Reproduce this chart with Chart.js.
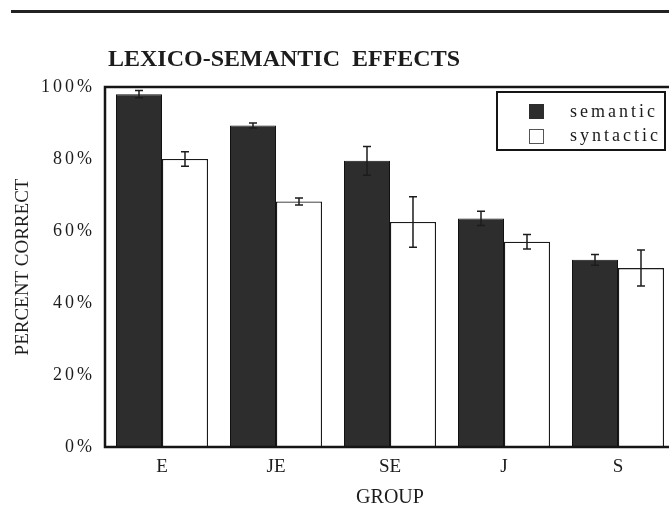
<!DOCTYPE html>
<html>
<head>
<meta charset="utf-8">
<title>Lexico-semantic effects</title>
<style>
  html, body { margin: 0; padding: 0; background: #fff; overflow: hidden; width: 669px; height: 527px; }
  #wrap { position: absolute; left: 0; top: 0; width: 680px; height: 527px; }
</style>
<script src="https://cdn.jsdelivr.net/npm/chart.js@4.4.1/dist/chart.umd.min.js"></script>
</head>
<body>
<div id="wrap"><canvas id="c" width="680" height="527"></canvas></div>
<script>
// data
const groups = ["E", "JE", "SE", "J", "S"];
const semantic = [98, 89.3, 79.5, 63.5, 52];
const semanticErr = [1, 0.7, 4, 2, 1.5];
const syntactic = [80, 68.2, 62.5, 57, 49.7];
const syntacticErr = [2, 1, 7, 2, 5];
const yTicks = [0, 20, 40, 60, 80, 100];

const SERIF = "'Liberation Serif', 'Times New Roman', serif";
const INK = "#1c1c1c";

// top rule + title, drawn before everything (spacing reset here)
const headerPlugin = {
  id: "header",
  beforeDraw(chart){
    const ctx = chart.ctx;
    ctx.letterSpacing = "0px";
    ctx.save();
    ctx.fillStyle = "#222";
    ctx.fillRect(11, 10, 670, 3);
    ctx.fillStyle = INK;
    ctx.font = "bold 24px " + SERIF;
    ctx.textBaseline = "middle";
    ctx.textAlign = "left";
    ctx.fillText("LEXICO-SEMANTIC  EFFECTS", 108, 60);
    ctx.restore();
  },
  afterDraw(chart){ chart.ctx.letterSpacing = "0px"; }
};

// error bars, plot frame and legend box
const extrasPlugin = {
  id: "extras",
  afterDatasetsDraw(chart){
    const ctx = chart.ctx;
    const y = chart.scales.y;
    const errs = [semanticErr, syntacticErr];
    ctx.save();
    ctx.strokeStyle = INK;
    ctx.lineWidth = 1.5;
    chart.data.datasets.forEach((ds, i)=>{
      const meta = chart.getDatasetMeta(i);
      meta.data.forEach((bar, j)=>{
        const v = ds.data[j], e = errs[i][j];
        const x = bar.x;
        const yt = y.getPixelForValue(v + e), yb = y.getPixelForValue(v - e);
        ctx.beginPath();
        ctx.moveTo(x, yt); ctx.lineTo(x, yb);
        ctx.moveTo(x - 4, yt); ctx.lineTo(x + 4, yt);
        ctx.moveTo(x - 4, yb); ctx.lineTo(x + 4, yb);
        ctx.stroke();
      });
    });
    // frame
    const a = chart.chartArea;
    ctx.lineWidth = 2.5;
    ctx.strokeStyle = "#151515";
    ctx.strokeRect(a.left, a.top, a.right - a.left, a.bottom - a.top);

    // legend
    ctx.lineWidth = 2;
    ctx.fillStyle = "#fff";
    ctx.fillRect(497, 92, 168, 58);
    ctx.strokeRect(497, 92, 168, 58);
    ctx.fillStyle = "#2d2d2d";
    ctx.fillRect(529, 104, 15, 15);
    ctx.lineWidth = 1;
    ctx.strokeStyle = "#555";
    ctx.strokeRect(529.5, 129.5, 14, 14);
    ctx.fillStyle = INK;
    ctx.letterSpacing = "3px";
    ctx.font = "18px " + SERIF;
    ctx.textBaseline = "middle";
    ctx.textAlign = "left";
    ctx.fillText("semantic", 570, 112);
    ctx.fillText("syntactic", 570, 136);
    ctx.restore();
    // y tick labels (drawn in a later layer) get the same wide spacing
    ctx.letterSpacing = "3px";
  }
};

new Chart(document.getElementById("c"), {
  type: "bar",
  data: {
    labels: groups,
    datasets: [
      { label: "semantic", data: semantic, backgroundColor: "#2d2d2d", borderColor: "#111", borderWidth: 1,
        categoryPercentage: 0.807, barPercentage: 1 },
      { label: "syntactic", data: syntactic, backgroundColor: "#fff", borderColor: "#1a1a1a", borderWidth: 1.3,
        categoryPercentage: 0.807, barPercentage: 1 }
    ]
  },
  options: {
    responsive: false,
    animation: false,
    devicePixelRatio: 1,
    layout: { padding: { top: 87, right: 5, left: 0, bottom: 0 } },
    plugins: { legend: { display: false }, tooltip: { enabled: false }, title: { display: false } },
    scales: {
      x: {
        grid: { display: false, drawTicks: false },
        border: { display: false },
        ticks: { color: INK, font: { family: SERIF, size: 19 }, padding: 9, z: 0 },
        title: { display: true, text: "GROUP", color: INK, font: { family: SERIF, size: 20 }, padding: { top: 0, bottom: 17 } },
        afterFit(s){ s.height = 80; }
      },
      y: {
        min: 0, max: 100,
        grid: { display: false, drawTicks: false },
        border: { display: false },
        afterBuildTicks(s){ s.ticks = yTicks.map(v=>({ value: v })); },
        ticks: { color: INK, font: { family: SERIF, size: 18 }, padding: 10, z: 1, callback: v => v + "%" },
        title: { display: true, text: "PERCENT CORRECT", color: INK, font: { family: SERIF, size: 19 }, padding: { top: 12, bottom: 0 } },
        afterFit(s){ s.width = 105; }
      }
    }
  },
  plugins: [headerPlugin, extrasPlugin]
});
</script>
</body>
</html>
